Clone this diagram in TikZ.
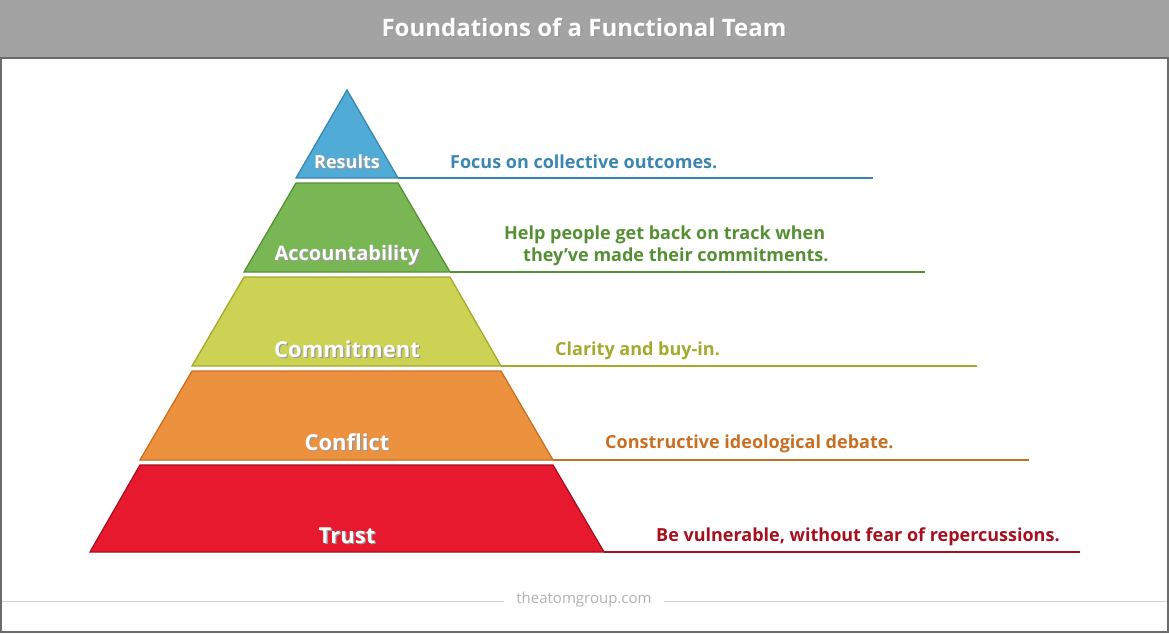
\documentclass[tikz,border=0pt]{standalone}
\usepackage{fontspec}
\setmainfont{Open Sans}

\definecolor{headgray}{HTML}{A3A3A3}
\definecolor{framegray}{HTML}{6B6B6B}
\definecolor{footgray}{HTML}{D2D2D2}
\definecolor{resfill}{HTML}{50ABD6}
\definecolor{resline}{HTML}{3A86B2}
\definecolor{accfill}{HTML}{79B755}
\definecolor{accline}{HTML}{558F33}
\definecolor{comfill}{HTML}{CCD254}
\definecolor{comline}{HTML}{A4AA2C}
\definecolor{conffill}{HTML}{EC923F}
\definecolor{confline}{HTML}{C96F22}
\definecolor{trfill}{HTML}{E6192E}
\definecolor{trline}{HTML}{A80F1E}

% white text with a soft drop shadow
\newcommand\shtext[1]{\makebox[0pt][l]{\hspace{1.3pt}\raisebox{-1.3pt}{\color{black!40}#1}}#1}

\tikzset{
  layer/.style={line width=1.3pt},
  rule/.style={line width=2pt},
  lname/.style={text=white,font=\bfseries\fontsize{#1}{#1}\selectfont,inner sep=0pt},
  desc/.style={font=\bfseries\fontsize{18}{22}\selectfont,anchor=west,inner sep=0pt}
}

\begin{document}
\begin{tikzpicture}[x=1pt,y=-1pt]
\useasboundingbox (0,0) rectangle (1169,633);
\fill[headgray] (0,0) rectangle (1169,58);
\draw[framegray,line width=2pt] (1,58) -- (1,632) -- (1168,632) -- (1168,58) -- cycle;
\node[text=white,font=\bfseries\fontsize{24}{24}\selectfont,inner sep=0pt] (title) at (584,28) {\shtext{Foundations of a Functional Team}};

% Results
\path[layer,draw=resline,fill=resfill] (347,90) -- (398,178) -- (296,178) -- cycle;
\coordinate (res) at (398,178);
\coordinate (resend) at (873,178);
\draw[rule,resline] (res) -- (resend);
\node[lname=18] (resname) at (347,162) {\shtext{Results}};
\node[desc,text=resline] (resdesc) at (450,162) {Focus on collective outcomes.};

% Accountability
\path[layer,draw=accline,fill=accfill] (296,183) -- (398,183) -- (450,272) -- (244,272) -- cycle;
\coordinate (acc) at (450,272);
\coordinate (accend) at (925,272);
\draw[rule,accline] (acc) -- (accend);
\node[lname=20] (accname) at (347,256) {\shtext{Accountability}};
\node[desc,text=accline,align=left] (accdesc) at (504,246) {Help people get back on track when\\\hspace*{19pt}they’ve made their commitments.};

% Commitment
\path[layer,draw=comline,fill=comfill] (244,277) -- (450,277) -- (501,366) -- (192,366) -- cycle;
\coordinate (com) at (501,366);
\coordinate (comend) at (977,366);
\draw[rule,comline] (com) -- (comend);
\node[lname=22] (comname) at (347,350) {\shtext{Commitment}};
\node[desc,text=comline] (comdesc) at (555,351) {Clarity and buy-in.};

% Conflict
\path[layer,draw=confline,fill=conffill] (192,371) -- (501,371) -- (553,460) -- (140,460) -- cycle;
\coordinate (conf) at (553,460);
\coordinate (confend) at (1029,460);
\draw[rule,confline] (conf) -- (confend);
\node[lname=22] (confname) at (347,443) {\shtext{Conflict}};
\node[desc,text=confline] (confdesc) at (605,444) {Constructive ideological debate.};

% Trust
\path[layer,draw=trline,fill=trfill] (140,465) -- (553,465) -- (604,552) -- (90,552) -- cycle;
\coordinate (tr) at (604,552);
\coordinate (trend) at (1080,552);
\draw[rule,trline] (tr) -- (trend);
\node[lname=22] (trname) at (347,536) {\shtext{Trust}};
\node[desc,text=trline] (trdesc) at (656,537) {Be vulnerable, without fear of repercussions.};

% footer
\node[text=footgray!85!black,font=\fontsize{15}{15}\selectfont,inner sep=0pt] (site) at (584,600) {theatomgroup.com};
\coordinate (footl) at (2,601);
\coordinate (footr) at (1167,601);
\draw[footgray,line width=1pt] (footl) -- ([xshift=-12pt]site.west |- footl);
\draw[footgray,line width=1pt] ([xshift=12pt]site.east |- footr) -- (footr);
\end{tikzpicture}
\end{document}
